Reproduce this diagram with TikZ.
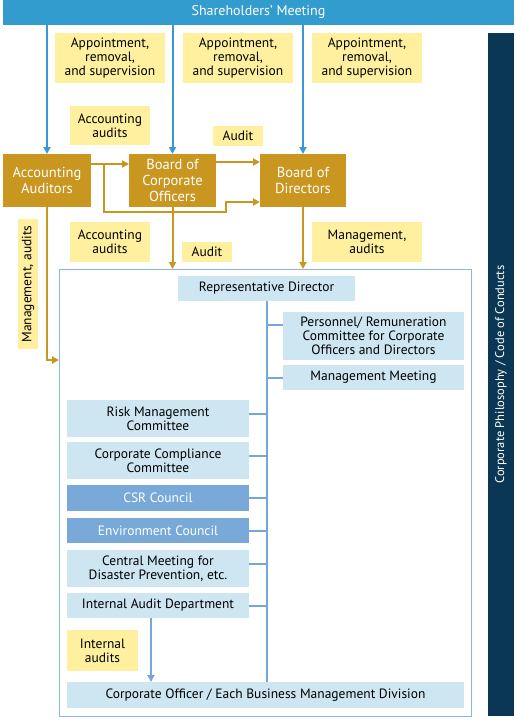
\documentclass[tikz,border=0pt]{standalone}
\usepackage{fontspec}
\setmainfont{PT Sans}
\usetikzlibrary{arrows.meta}
\definecolor{smblue}{RGB}{51,156,206}
\definecolor{arrblue}{RGB}{58,152,214}
\definecolor{lblyellow}{RGB}{255,240,160}
\definecolor{gold}{RGB}{201,150,32}
\definecolor{navy}{RGB}{10,56,84}
\definecolor{lightbox}{RGB}{206,230,242}
\definecolor{midbox}{RGB}{120,169,216}
\definecolor{frameblue}{RGB}{140,182,224}
\definecolor{connblue}{RGB}{118,166,218}
\begin{document}
\begin{tikzpicture}[x=1pt,y=-1pt,
  every node/.style={inner sep=0pt,outer sep=0pt,font=\fontsize{13.5}{14}\selectfont,align=center},
  lbl/.style={fill=lblyellow,text=black},
  goldbox/.style={fill=gold,text=white,font=\fontsize{14.5}{16}\selectfont},
  lbox/.style={fill=lightbox,text=black},
  mbox/.style={fill=midbox,text=white},
  bluearr/.style={draw=arrblue,line width=2pt,-{Triangle[width=7pt,length=7pt]}},
  goldarr/.style={draw=gold,line width=2pt,-{Triangle[width=7pt,length=7pt]}},
  conn/.style={draw=connblue,line width=2pt},
  connarr/.style={draw=connblue,line width=2pt,-{Triangle[width=7pt,length=7pt]}}]
\useasboundingbox (0,0) rectangle (516,720);
% top bar
\node[fill=smblue,text=white,minimum width=511pt,minimum height=25pt,font=\fontsize{14}{15}\selectfont] (sm) at (258.5,12.5) {Shareholders’ Meeting};
% navy bar
\node[fill=navy,text=white,minimum width=683pt,minimum height=26pt,rotate=90,font=\fontsize{12.5}{13}\selectfont] (cp) at (501,374.5) {Corporate Philosophy / Code of Conducts};
% yellow labels
\node[lbl,minimum width=110pt,minimum height=50pt] (a1) at (110,58) {Appointment,\\removal,\\and supervision};
\node[lbl,minimum width=110pt,minimum height=50pt] (a2) at (238,58) {Appointment,\\removal,\\and supervision};
\node[lbl,minimum width=110pt,minimum height=50pt] (a3) at (367,58) {Appointment,\\removal,\\and supervision};
\node[lbl,minimum width=80pt,minimum height=39pt] (acc1) at (110,125.5) {Accounting\\audits};
\node[lbl,minimum width=50pt,minimum height=20pt] (aud1) at (238,136) {Audit};
\node[lbl,minimum width=80pt,minimum height=40pt] (acc2) at (110,242) {Accounting\\audits};
\node[lbl,minimum width=50pt,minimum height=20pt] (aud2) at (207,252) {Audit};
\node[lbl,minimum width=110pt,minimum height=40pt] (ma) at (367,242) {Management,\\audits};
\node[lbl,minimum width=130pt,minimum height=20pt,rotate=90] (ma2) at (28,284) {Management, audits};
% gold boxes
\node[goldbox,minimum width=88pt,minimum height=53pt] (AA) at (47,180.5) {Accounting\\Auditors};
\node[goldbox,minimum width=87pt,minimum height=53pt] (BCO) at (172.5,180.5) {Board of\\Corporate\\Officers};
\node[goldbox,minimum width=86pt,minimum height=53pt] (BD) at (303,180.5) {Board of\\Directors};
% big frame
\node[draw=frameblue,line width=1pt,minimum width=412pt,minimum height=447pt] (big) at (265,492.5) {};
% blue boxes
\node[lbox,minimum width=177pt,minimum height=25pt] (RD) at (266.5,288.5) {Representative Director};
\node[lbox,minimum width=181pt,minimum height=48pt] (PR) at (373.5,336) {Personnel/ Remuneration\\Committee for Corporate\\Officers and Directors};
\node[lbox,minimum width=181pt,minimum height=25pt] (MM) at (373.5,377.5) {Management Meeting};
\node[lbox,minimum width=182pt,minimum height=37pt] (RMC) at (158,418.5) {Risk Management\\Committee};
\node[lbox,minimum width=182pt,minimum height=37pt] (CCC) at (158,460.5) {Corporate Compliance\\Committee};
\node[mbox,minimum width=182pt,minimum height=26pt] (CSR) at (158,498) {CSR Council};
\node[mbox,minimum width=182pt,minimum height=25pt] (EC) at (158,530.5) {Environment Council};
\node[lbox,minimum width=182pt,minimum height=37pt] (CMD) at (158,568.5) {Central Meeting for\\Disaster Prevention, etc.};
\node[lbox,minimum width=182pt,minimum height=25pt] (IAD) at (158,605.5) {Internal Audit Department};
\node[lbl,minimum width=71pt,minimum height=41pt] (IA) at (102.5,650.5) {Internal\\audits};
\node[lbox,minimum width=397pt,minimum height=26pt] (CO) at (265.5,695) {Corporate Officer / Each Business Management Division};
% blue arrows from shareholders
\draw[bluearr] (AA.north |- sm.south) -- (AA.north);
\draw[bluearr] (BCO.north |- sm.south) -- (BCO.north);
\draw[bluearr] (BD.north |- sm.south) -- (BD.north);
% gold arrows
\coordinate (j1) at (104,164);
\coordinate (j2) at (226,212);
\draw[goldarr] ([yshift=16.5pt]AA.east) -- ([yshift=16.5pt]BCO.west);
\draw[goldarr] (j1) |- (j2) |- ([yshift=-21.5pt]BD.west);
\draw[goldarr] ([yshift=18.5pt]BCO.east) -- ([yshift=18.5pt]BD.west);
\draw[goldarr] (AA.south) |- ([yshift=132.5pt]big.west);
\draw[goldarr] (BCO.south) -- (BCO.south |- big.north);
\draw[goldarr] (BD.south) -- (BD.south |- big.north);
% organisation connectors
\draw[conn] (RD.south) -- (RD.south |- CO.north);
\draw[conn] ([yshift=11pt]PR.west) -- ([yshift=11pt]PR.west -| RD.south);
\draw[conn] (MM.west) -- (MM.west -| RD.south);
\draw[conn] ([yshift=5pt]RMC.east) -- ([yshift=5pt]RMC.east -| RD.south);
\draw[conn] ([yshift=5pt]CCC.east) -- ([yshift=5pt]CCC.east -| RD.south);
\draw[conn] (CSR.east) -- (CSR.east -| RD.south);
\draw[conn] (EC.east) -- (EC.east -| RD.south);
\draw[conn] ([yshift=5pt]CMD.east) -- ([yshift=5pt]CMD.east -| RD.south);
\draw[conn] (IAD.east) -- (IAD.east -| RD.south);
\draw[connarr] ([xshift=-7pt]IAD.south) -- ([xshift=-7pt]IAD.south |- CO.north);
\end{tikzpicture}
\end{document}
